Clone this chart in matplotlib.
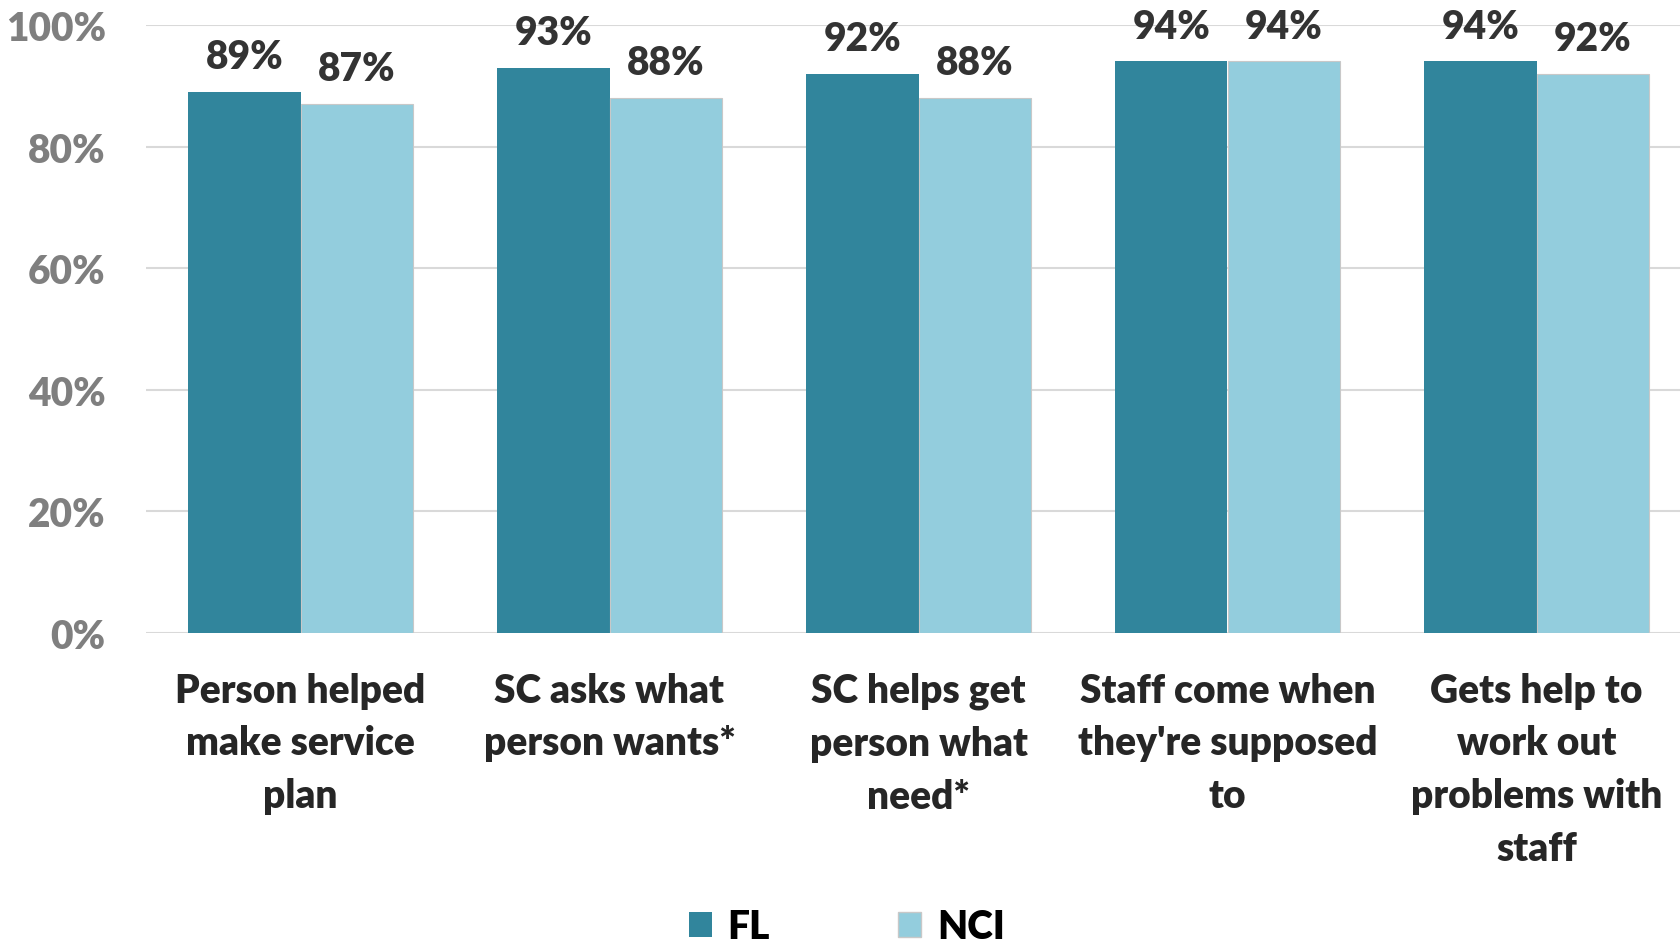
import matplotlib.pyplot as plt
import numpy as np
from matplotlib.patches import Patch

# Dados
categorias = ["Person helped\nmake service\nplan", "SC asks what\nperson wants*",
              "SC helps get\nperson what\nneed*", "Staff come when\nthey're supposed\nto",
              "Gets help to\nwork out\nproblems with\nstaff"]
fl = [89, 93, 92, 94, 94]
nci = [87, 88, 88, 94, 92]
yticks = [0, 20, 40, 60, 80, 100]

cor_fl = '#31859C'
cor_nci = '#93CDDD'
peso = 'heavy'

plt.rcParams['font.family'] = ['Lato', 'DejaVu Sans']
plt.rcParams['font.weight'] = peso

fig = plt.figure(figsize=(16.8, 9.45), dpi=100)
ax = fig.add_axes([146 / 1680, 1 - 634 / 945, 1 - 146 / 1680, (634 - 26) / 945])

x = np.arange(len(categorias))
w = 0.364
b1 = ax.bar(x - w / 2, fl, w, color=cor_fl, zorder=3)
b2 = ax.bar(x + w / 2, nci, w, color=cor_nci, edgecolor='#C8C8C8', linewidth=0.8, zorder=3)

# Rótulos dos valores
for barras, vals in [(b1, fl), (b2, nci)]:
    for b, v in zip(barras, vals):
        ax.annotate(f'{v}%', (b.get_x() + b.get_width() / 2, v), xytext=(0, 17),
                    textcoords='offset points', ha='center', va='baseline',
                    fontsize=28, fontweight=peso, color='#333333', clip_on=False)

ax.set_xlim(-0.5, (1680 - 300.5) / 309)
ax.set_ylim(0, 100)
ax.set_yticks(yticks)
ax.set_yticklabels([f'{t}%' for t in yticks], fontsize=28, fontweight=peso, color='#7F7F7F')
ax.set_xticks(x)
ax.set_xticklabels(categorias, fontsize=28, fontweight=peso, color='#262626', linespacing=1.52)
ax.tick_params(axis='both', length=0)
ax.tick_params(axis='x', pad=28)
ax.tick_params(axis='y', pad=29)
ax.grid(axis='y', color='#D9D9D9', linewidth=1.5, zorder=0)
for s in ax.spines.values():
    s.set_visible(False)

# Legenda
handles = [Patch(facecolor=cor_fl, label='FL'),
           Patch(facecolor=cor_nci, edgecolor='#C8C8C8', label='NCI')]
leg = fig.legend(handles=handles, loc='center', bbox_to_anchor=(0.504, 1 - 928 / 945), ncol=2,
                 frameon=False, fontsize=28, handlelength=0.6, handleheight=0.6,
                 handletextpad=0.4, columnspacing=3.3, borderpad=0)
for t in leg.get_texts():
    t.set_fontweight(peso)

plt.savefig('out.png', dpi=100)
